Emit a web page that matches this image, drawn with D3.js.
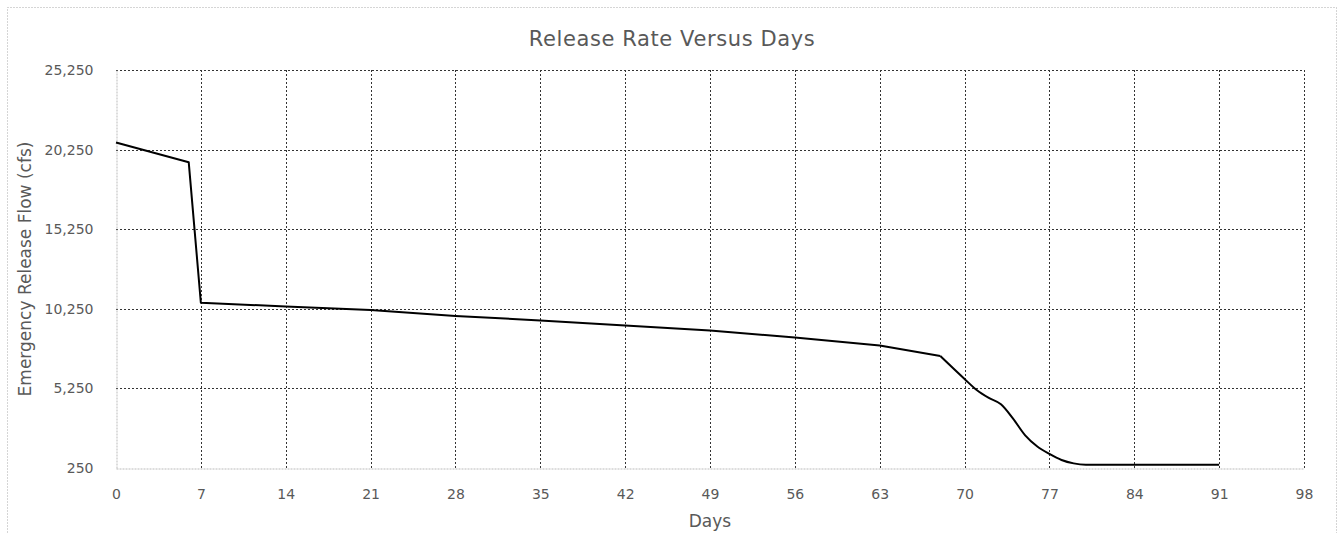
<!DOCTYPE html>
<html lang="en">
<head>
    <meta charset="UTF-8">
    <title>Release Rate Versus Days</title>
    <script src="https://d3js.org/d3.v7.min.js"></script>
    <style>
        body { margin: 0; background: #fff; }
        text { font-family: "DejaVu Sans", sans-serif; fill: #595959; }
    </style>
</head>
<body>
    <svg width="1343" height="533"></svg>

    <script>
        // Data
        const days = [0, 6, 7, 14, 21, 28, 35, 42, 49, 56, 63, 68, 70, 71, 72, 73, 74, 75, 76, 77, 78, 79, 80, 84, 91];
        const flow = [20700, 19450, 10630, 10400, 10170, 9800, 9520, 9200, 8880, 8450, 7950, 7280, 5840, 5150, 4650, 4250, 3350, 2300, 1600, 1130, 750, 540, 460, 450, 450];
        const xTicks = [0, 7, 14, 21, 28, 35, 42, 49, 56, 63, 70, 77, 84, 91, 98];
        const yTicks = [250, 5250, 10250, 15250, 20250, 25250];

        const width = 1343;
        const height = 533;
        const margin = {top: 70, right: 39, bottom: 65, left: 116};

        const svg = d3.select("svg")
            .attr("width", width)
            .attr("height", height);

        // outer chart border
        svg.append("rect")
            .attr("x", 7.5).attr("y", 7.5)
            .attr("width", 1329).attr("height", 540)
            .attr("fill", "none")
            .attr("stroke", "#aaa")
            .attr("stroke-dasharray", "1,2");

        const x = d3.scaleLinear()
            .domain([0, 98])
            .range([margin.left, width - margin.right]);

        const y = d3.scaleLinear()
            .domain([250, 25250])
            .range([height - margin.bottom, margin.top]);

        // horizontal gridlines
        svg.append("g")
            .selectAll("line")
            .data(yTicks.slice(1))
            .join("line")
            .attr("x1", x(0)).attr("x2", x(98))
            .attr("y1", d => Math.round(y(d)) + 0.5)
            .attr("y2", d => Math.round(y(d)) + 0.5)
            .attr("stroke", "#333")
            .attr("stroke-dasharray", "2,2");

        // vertical gridlines
        svg.append("g")
            .selectAll("line")
            .data(xTicks.slice(1))
            .join("line")
            .attr("x1", d => Math.round(x(d)) + 0.5)
            .attr("x2", d => Math.round(x(d)) + 0.5)
            .attr("y1", y(25250)).attr("y2", y(250))
            .attr("stroke", "#333")
            .attr("stroke-dasharray", "2,2");

        // x axis
        const xAxis = svg.append("g")
            .attr("transform", `translate(0,${Math.round(y(250)) + 0.5})`)
            .call(d3.axisBottom(x).tickValues(xTicks).tickSize(0).tickPadding(21).tickFormat(d3.format("d")));
        xAxis.select(".domain").attr("stroke", "#bbb").attr("stroke-dasharray", "2,1");
        xAxis.selectAll("text").style("font-size", "14px").attr("fill", "#595959");

        // y axis
        const yAxis = svg.append("g")
            .attr("transform", `translate(${Math.round(x(0)) + 0.5},0)`)
            .call(d3.axisLeft(y).tickValues(yTicks).tickSize(0).tickPadding(23).tickFormat(d3.format(",")));
        yAxis.select(".domain").attr("stroke", "#bbb").attr("stroke-dasharray", "2,1");
        yAxis.selectAll("text").style("font-size", "14px").attr("fill", "#595959");

        // the release line: straight up to day 68, smooth tail afterwards
        const points = days.map((d, i) => [d, flow[i]]);
        const split = days.indexOf(68);

        const straight = d3.line()
            .x(d => x(d[0]))
            .y(d => y(d[1]));

        const smooth = d3.line()
            .x(d => x(d[0]))
            .y(d => y(d[1]))
            .curve(d3.curveMonotoneX);

        svg.append("path")
            .datum(points.slice(0, split + 1))
            .attr("fill", "none")
            .attr("stroke", "#000")
            .attr("stroke-width", 2)
            .attr("stroke-linejoin", "round")
            .attr("d", straight);

        svg.append("path")
            .datum(points.slice(split))
            .attr("fill", "none")
            .attr("stroke", "#000")
            .attr("stroke-width", 2)
            .attr("d", smooth);

        // title
        svg.append("text")
            .attr("text-anchor", "middle")
            .attr("x", 672)
            .attr("y", 46)
            .text("Release Rate Versus Days")
            .style("font-size", "21px")
            .style("letter-spacing", "0.6px");

        // axis labels
        svg.append("text")
            .attr("text-anchor", "middle")
            .attr("x", (x(0) + x(98)) / 2)
            .attr("y", 527)
            .text("Days")
            .style("font-size", "17px");

        svg.append("text")
            .attr("text-anchor", "middle")
            .attr("transform", `translate(31,${(y(250) + y(25250)) / 2}) rotate(-90)`)
            .text("Emergency Release Flow (cfs)")
            .style("font-size", "17px");
    </script>
</body>
</html>
